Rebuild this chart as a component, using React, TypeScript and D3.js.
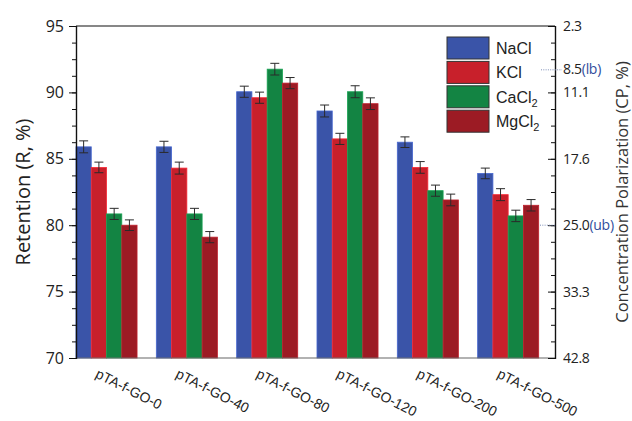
import React, { useRef, useEffect } from "react";
import * as d3 from "d3";

const groups = ["pTA-f-GO-0", "pTA-f-GO-40", "pTA-f-GO-80", "pTA-f-GO-120", "pTA-f-GO-200", "pTA-f-GO-500"];
const salts = ["NaCl", "KCl", "CaCl2", "MgCl2"];
const saltColors = ["#3a54a8", "#c8202b", "#138443", "#9c1b24"];

// retention values (%) per salt, one per membrane
const naclValues = [85.9, 85.9, 90.05, 88.6, 86.25, 83.9];
const kclValues = [84.35, 84.3, 89.6, 86.5, 84.35, 82.3];
const cacl2Values = [80.85, 80.85, 91.75, 90.05, 82.6, 80.7];
const mgcl2Values = [80.0, 79.1, 90.7, 89.15, 81.9, 81.5];

// error bars (+/-)
const naclErr = [0.45, 0.42, 0.42, 0.45, 0.4, 0.4];
const kclErr = [0.4, 0.45, 0.42, 0.42, 0.44, 0.45];
const cacl2Err = [0.42, 0.42, 0.44, 0.45, 0.42, 0.43];
const mgcl2Err = [0.4, 0.42, 0.42, 0.44, 0.44, 0.43];

// left axis
const retentionMajor = [70, 75, 80, 85, 90, 95];
// right axis labels at the same heights as the left majors
const cpLabels = ["42.8", "33.3", "25.0", "17.6", "11.1", "2.3"];

const App = () => {
  const svgRef = useRef<SVGSVGElement>(null);

  useEffect(() => {
    document.body.style.margin = "0";
    const w = 632;
    const h = 421;
    const left = 76;
    const right = 555;
    const top = 26;
    const bottom = 358;

    const svg = d3.select(svgRef.current).attr("width", w).attr("height", h).style("background", "#fff");
    svg.selectAll("*").remove();

    const values = [naclValues, kclValues, cacl2Values, mgcl2Values];
    const errs = [naclErr, kclErr, cacl2Err, mgcl2Err];

    const yScale = d3.scaleLinear().domain([70, 95]).range([bottom, top]);
    const step = 80.33;
    const xScale = d3
      .scaleBand()
      .domain(groups)
      .range([left, left + step * groups.length])
      .paddingInner(0.24)
      .paddingOuter(0.12)
      .align(0);
    const xSub = d3.scaleBand().domain(salts).range([0, xScale.bandwidth()]);

    const minorTicks = d3.range(70, 95.01, 1.25);

    // bars
    const g = svg.append("g");
    groups.forEach((grp, gi) => {
      salts.forEach((s, si) => {
        const v = values[si][gi];
        const x0 = (xScale(grp) as number) + (xSub(s) as number);
        g.append("rect")
          .attr("x", x0)
          .attr("y", yScale(v))
          .attr("width", xSub.bandwidth())
          .attr("height", yScale(70) - yScale(v))
          .attr("fill", saltColors[si])
          .attr("stroke", d3.color(saltColors[si])!.brighter(0.6).toString())
          .attr("stroke-width", 0.8);
        const cx = x0 + xSub.bandwidth() / 2;
        const e = errs[si][gi];
        const eg = g.append("g").attr("stroke", "#2a2a2a").attr("stroke-width", 1);
        eg.append("line").attr("x1", cx).attr("x2", cx).attr("y1", yScale(v + e)).attr("y2", yScale(v - e));
        [v + e, v - e].forEach((yy) => {
          eg.append("line").attr("x1", cx - 4.5).attr("x2", cx + 4.5).attr("y1", yScale(yy)).attr("y2", yScale(yy));
        });
      });
    });

    // frame lines
    svg.append("line").attr("x1", left).attr("x2", right).attr("y1", top).attr("y2", top).attr("stroke", "#111").attr("stroke-width", 1.2);
    svg.append("line").attr("x1", left).attr("x2", right).attr("y1", bottom).attr("y2", bottom).attr("stroke", "#666").attr("stroke-width", 1.2);

    // left axis
    const leftMinor = svg
      .append("g")
      .attr("transform", `translate(${left},0)`)
      .call(d3.axisLeft(yScale).tickValues(minorTicks).tickSize(4).tickFormat(() => ""));
    const leftMajor = svg
      .append("g")
      .attr("transform", `translate(${left},0)`)
      .call(d3.axisLeft(yScale).tickValues(retentionMajor).tickSize(7).tickPadding(5).tickFormat(d3.format("d")));
    [leftMinor, leftMajor].forEach((a) => {
      a.select(".domain").attr("stroke", "#111").attr("stroke-width", 1.2);
      a.selectAll(".tick line").attr("stroke", "#111");
    });
    leftMajor.selectAll(".tick text").attr("font-family", "'Open Sans', sans-serif").attr("font-size", 16).attr("fill", "#222");

    // right axis (ticks pointing inward)
    const rightMinor = svg
      .append("g")
      .attr("transform", `translate(${right},0)`)
      .call(d3.axisRight(yScale).tickValues(minorTicks).tickSize(-4).tickFormat(() => ""));
    const rightMajor = svg
      .append("g")
      .attr("transform", `translate(${right},0)`)
      .call(
        d3
          .axisRight(yScale)
          .tickValues(retentionMajor)
          .tickSize(-7)
          .tickPadding(8)
          .tickFormat((d, i) => cpLabels[i])
      );
    [rightMinor, rightMajor].forEach((a) => {
      a.select(".domain").attr("stroke", "#111").attr("stroke-width", 1.2);
      a.selectAll(".tick line").attr("stroke", "#111");
    });
    rightMajor.selectAll(".tick text").attr("font-family", "'Open Sans', sans-serif").attr("font-size", 14).attr("letter-spacing", -0.3).attr("fill", "#222");
    rightMajor
      .selectAll<SVGTextElement, number>(".tick text")
      .filter((d) => d === 80)
      .append("tspan")
      .attr("fill", "#2f4d9c")
      .text("(ub)");

    // lower bound marker (8.5 %)
    const lbY = yScale(91.7);
    svg.append("line").attr("x1", 541).attr("x2", 562).attr("y1", lbY).attr("y2", lbY).attr("stroke", "#7f8fb8").attr("stroke-dasharray", "1,1.3");
    const lb = svg
      .append("text")
      .attr("x", 563)
      .attr("y", lbY)
      .attr("dy", "0.32em")
      .attr("font-family", "'Open Sans', sans-serif")
      .attr("font-size", 14)
      .attr("letter-spacing", -0.3)
      .attr("fill", "#222")
      .text("8.5");
    lb.append("tspan").attr("fill", "#2f4d9c").text("(lb)");
    const ubY = yScale(80);
    svg.append("line").attr("x1", 540).attr("x2", 556).attr("y1", ubY).attr("y2", ubY).attr("stroke", "#7f8fb8").attr("stroke-dasharray", "1,1.3");

    // category labels
    groups.forEach((grp) => {
      const cx = (xScale(grp) as number) + xScale.bandwidth() / 2;
      svg
        .append("text")
        .attr("transform", `translate(${cx - 12},377) rotate(27)`)
        .attr("font-family", "'Liberation Sans', Arial, sans-serif")
        .attr("font-size", 14)
        .attr("fill", "#222")
        .text(grp);
    });

    // axis titles
    svg
      .append("text")
      .attr("transform", `translate(30,${(top + bottom) / 2}) rotate(-90)`)
      .attr("text-anchor", "middle")
      .attr("font-family", "'Open Sans', sans-serif")
      .attr("font-size", 20)
      .attr("fill", "#222")
      .text("Retention (R, %)");
    svg
      .append("text")
      .attr("transform", `translate(628,${(top + bottom) / 2}) rotate(-90)`)
      .attr("text-anchor", "middle")
      .attr("font-family", "'Open Sans', sans-serif")
      .attr("font-size", 16.5)
      .attr("fill", "#333")
      .text("Concentration Polarization (CP, %)");

    // legend
    const legend = svg.append("g").attr("transform", "translate(447,37)");
    salts.forEach((s, i) => {
      const row = legend.append("g").attr("transform", `translate(0,${i * 24.4})`);
      row.append("rect").attr("width", 42).attr("height", 22).attr("fill", saltColors[i]).attr("stroke", "#333").attr("stroke-width", 1);
      const t = row
        .append("text")
        .attr("x", 49)
        .attr("y", 17)
        .attr("font-family", "'Liberation Sans', Arial, sans-serif")
        .attr("font-size", 16)
        .attr("fill", "#222");
      const m = s.match(/^(.*?)(\d)$/);
      if (m) {
        t.append("tspan").text(m[1]);
        t.append("tspan").attr("font-size", 11).attr("dy", 4).text(m[2]);
      } else {
        t.text(s);
      }
    });
  }, []);

  return <svg ref={svgRef}></svg>;
};

export default App;
